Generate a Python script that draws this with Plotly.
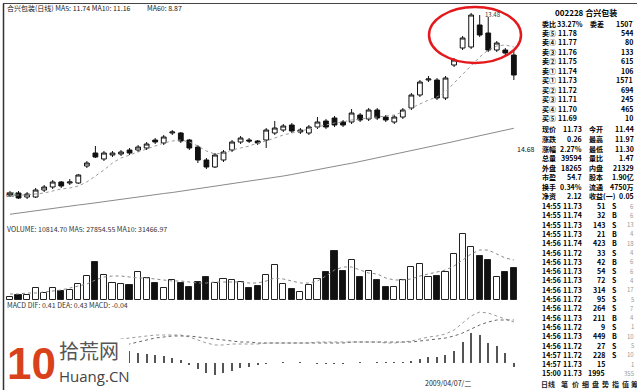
import plotly.graph_objects as go

W, H = 637, 390
FONT = "Noto Sans CJK SC"

# ---------------- data ----------------
day = list(range(60))
open_ = [6.20, 6.28, 6.12, 6.12, 6.40, 6.52, 6.72, 6.68, 6.68, 7.36,
         7.88, 7.64, 7.80, 7.84, 8.00, 8.00, 8.08, 8.40, 8.28, 8.68,
         8.68, 8.40, 8.12, 7.60, 7.32, 7.60, 8.00, 8.32, 8.40, 8.36,
         8.40, 8.68, 8.80, 9.00, 8.72, 8.68, 8.92, 9.16, 9.28, 9.12,
         9.12, 9.40, 9.24, 9.60, 9.32, 9.12, 9.32, 9.68, 10.20, 10.80,
         10.80, 10.08, 11.40, 12.08, 12.12, 13.00, 12.68, 12.00, 12.00, 11.80]
close = [6.28, 6.08, 6.24, 6.40, 6.52, 6.72, 6.56, 6.72, 7.00, 7.48,
         7.72, 7.88, 7.88, 7.92, 7.88, 8.12, 8.24, 8.32, 8.52, 8.72,
         8.36, 8.08, 7.60, 7.32, 7.80, 7.92, 8.32, 8.48, 8.36, 8.28,
         8.80, 8.88, 8.96, 8.76, 8.80, 8.92, 9.12, 8.92, 9.00, 9.00,
         9.48, 9.20, 9.60, 9.28, 9.20, 9.32, 9.60, 10.20, 10.72, 10.84,
         10.08, 10.88, 11.60, 12.48, 13.40, 12.60, 12.00, 12.28, 11.88, 11.00]
high = [6.36, 6.36, 6.32, 6.48, 6.60, 6.80, 6.76, 6.84, 7.04, 7.56,
        8.16, 7.96, 7.96, 8.00, 8.08, 8.20, 8.32, 8.48, 8.60, 8.80,
        8.72, 8.44, 8.20, 7.68, 7.88, 8.00, 8.40, 8.56, 8.48, 8.40,
        8.88, 9.16, 9.04, 9.08, 8.88, 9.00, 9.32, 9.24, 9.36, 9.20,
        9.64, 9.48, 9.68, 9.68, 9.40, 9.40, 9.68, 10.28, 10.80, 10.96,
        10.88, 10.96, 11.68, 12.56, 13.48, 13.40, 13.32, 12.36, 12.08, 12.00]
low = [6.12, 6.04, 6.04, 6.08, 6.32, 6.44, 6.48, 6.60, 6.64, 7.28,
       7.68, 7.56, 7.72, 7.76, 7.80, 7.92, 8.00, 8.24, 8.20, 8.60,
       8.28, 8.00, 7.48, 7.24, 7.28, 7.52, 7.92, 8.24, 8.28, 8.20,
       8.08, 8.60, 8.72, 8.68, 8.64, 8.60, 8.84, 8.84, 8.92, 8.92,
       9.04, 9.12, 9.16, 9.20, 9.12, 9.04, 9.24, 9.60, 10.12, 10.72,
       10.00, 10.00, 11.32, 12.00, 12.04, 12.52, 11.92, 11.92, 11.80, 10.80]
ma10 = [6.16, 6.20, 6.20, 6.24, 6.28, 6.36, 6.44, 6.48, 6.56, 6.72,
        6.96, 7.20, 7.48, 7.68, 7.80, 7.92, 8.04, 8.16, 8.28, 8.36,
        8.40, 8.32, 8.16, 7.96, 7.84, 7.88, 8.00, 8.08, 8.16, 8.28,
        8.36, 8.48, 8.60, 8.68, 8.76, 8.84, 8.92, 9.00, 9.08, 9.12,
        9.20, 9.24, 9.28, 9.32, 9.36, 9.40, 9.52, 9.68, 9.84, 10.00,
        10.12, 10.32, 10.68, 11.04, 11.36, 11.72, 12.00, 12.16, 12.20, 12.12]
ma60 = [5.43, 5.48, 5.52, 5.57, 5.61, 5.66, 5.70, 5.75, 5.80, 5.84,
        5.89, 5.94, 5.98, 6.03, 6.07, 6.12, 6.17, 6.21, 6.26, 6.30,
        6.35, 6.40, 6.44, 6.49, 6.53, 6.58, 6.63, 6.68, 6.73, 6.78,
        6.83, 6.89, 6.96, 7.02, 7.09, 7.15, 7.21, 7.28, 7.34, 7.41,
        7.47, 7.54, 7.61, 7.68, 7.75, 7.82, 7.89, 7.97, 8.04, 8.12,
        8.19, 8.27, 8.34, 8.42, 8.49, 8.57, 8.65, 8.72, 8.80, 8.87]
volume = [3000, 5000, 5000, 12000, 7000, 12000, 9000, 10000, 16000, 24000,
          38000, 25000, 17000, 16000, 15000, 28000, 22000, 17000, 12000, 20000,
          17000, 13000, 18000, 23000, 17000, 21000, 20000, 18000, 12000, 14000,
          25000, 35000, 16000, 11000, 8000, 15000, 21000, 28000, 49000, 29000,
          40000, 23000, 29000, 20000, 13000, 13000, 20000, 33000, 36000, 23000,
          24000, 28000, 46000, 66000, 53000, 44000, 40000, 23000, 28000, 32000]
vol_ma = [6000, 6000, 7000, 7000, 8000, 9000, 10000, 12000, 14000, 16000,
          20000, 23000, 24000, 24000, 23000, 22000, 22000, 21000, 20000, 19000,
          19000, 18000, 17000, 17000, 18000, 18000, 18000, 18000, 17000, 17000,
          19000, 22000, 21000, 19000, 17000, 17000, 19000, 24000, 30000, 33000,
          33000, 30000, 27000, 26000, 22000, 20000, 20000, 21000, 24000, 26000,
          28000, 30000, 34000, 40000, 46000, 50000, 50000, 46000, 42000, 40000]
dif = [-0.01, 0.00, 0.01, 0.02, 0.03, 0.05, 0.06, 0.07, 0.09, 0.13,
       0.17, 0.20, 0.22, 0.24, 0.25, 0.26, 0.27, 0.28, 0.28, 0.28,
       0.28, 0.26, 0.23, 0.20, 0.18, 0.18, 0.19, 0.19, 0.19, 0.19,
       0.20, 0.20, 0.20, 0.20, 0.20, 0.20, 0.21, 0.21, 0.21, 0.21,
       0.21, 0.21, 0.21, 0.21, 0.20, 0.20, 0.21, 0.22, 0.24, 0.26,
       0.27, 0.29, 0.33, 0.40, 0.47, 0.51, 0.50, 0.47, 0.44, 0.41]
dea = [-0.02, -0.02, -0.01, -0.01, 0.00, 0.01, 0.02, 0.03, 0.04, 0.06,
       0.08, 0.11, 0.14, 0.17, 0.19, 0.21, 0.23, 0.25, 0.26, 0.27,
       0.27, 0.27, 0.26, 0.25, 0.24, 0.23, 0.22, 0.21, 0.21, 0.20,
       0.20, 0.20, 0.20, 0.20, 0.20, 0.20, 0.20, 0.20, 0.20, 0.20,
       0.21, 0.21, 0.21, 0.21, 0.21, 0.21, 0.21, 0.21, 0.22, 0.23,
       0.24, 0.25, 0.27, 0.30, 0.34, 0.38, 0.41, 0.43, 0.43, 0.43]
macd = [0.02, 0.04, 0.04, 0.06, 0.06, 0.08, 0.08, 0.08, 0.10, 0.14,
        0.18, 0.18, 0.16, 0.14, 0.12, 0.10, 0.09, 0.08, 0.07, 0.05,
        0.03, -0.02, -0.06, -0.10, -0.12, -0.10, -0.08, -0.05, -0.04, -0.02,
        -0.01, 0.00, 0.005, 0.00, 0.005, 0.00, -0.01, -0.01, -0.01, -0.01,
        0.00, 0.005, 0.00, 0.005, 0.01, 0.01, 0.005, 0.02, 0.04, 0.06,
        0.06, 0.08, 0.12, 0.21, 0.30, 0.28, 0.20, 0.17, 0.10, -0.04]

# right panel quote data
stock_title = "002228 合兴包装"
order_labels = ["卖⑤", "卖④", "卖③", "卖②", "卖①", "买①", "买②", "买③", "买④", "买⑤"]
order_prices = ["11.78", "11.77", "11.76", "11.75", "11.74", "11.73", "11.72", "11.71", "11.70", "11.69"]
order_vols = ["544", "80", "133", "615", "106", "1571", "694", "245", "465", "10"]
stat_rows = [("现价", "11.73", "今开", "11.44"), ("涨跌", "0.26", "最高", "11.97"),
             ("涨幅", "2.27%", "最低", "11.30"), ("总量", "39594", "量比", "1.47"),
             ("外盘", "18265", "内盘", "21329"), ("市盈", "54.7", "股本", "1.90亿"),
             ("换手", "0.34%", "流通", "4750万"), ("净资", "2.12", "收益(一)", "0.05")]
tick_time = ["14:55", "14:55", "14:55", "14:55", "14:56", "14:56", "14:56", "14:56", "14:56", "14:56",
             "14:56", "14:56", "14:56", "14:56", "14:56", "14:56", "14:57", "14:57", "15:00"]
tick_price = ["11.73", "11.74", "11.73", "11.73", "11.74", "11.72", "11.73", "11.73", "11.73", "11.73",
              "11.72", "11.72", "11.73", "11.72", "11.73", "11.72", "11.72", "11.73", "11.73"]
tick_vol = ["51", "32", "143", "21", "423", "33", "42", "54", "72", "314",
            "95", "264", "211", "9", "449", "27", "228", "15", "1995"]
tick_side = ["S", "B", "S", "B", "B", "S", "B", "S", "S", "S",
             "S", "S", "B", "S", "B", "S", "S", "", ""]
tick_cnt = ["6", "6", "13", "4", "18", "4", "6", "6", "4", "17",
            "5", "7", "4", "1", "10", "5", "10", "1", "355"]
tabs = ["日线", "笔", "价", "细", "盘", "势", "指", "值", "筹"]

# ---------------- figure ----------------
def px_x(px):
    return px / W

def px_y(py):
    return 1 - py / H

fig = go.Figure()

fig.add_trace(go.Candlestick(
    x=day, open=open_, high=high, low=low, close=close,
    increasing=dict(line=dict(color="#111", width=1), fillcolor="white"),
    decreasing=dict(line=dict(color="#111", width=1), fillcolor="#111"),
    whiskerwidth=0, xaxis="x", yaxis="y", showlegend=False, hoverinfo="skip"))
fig.add_trace(go.Scatter(x=day, y=ma10, mode="lines", line=dict(color="#9a9a9a", width=1, dash="dot"),
                         xaxis="x", yaxis="y", showlegend=False, hoverinfo="skip"))
fig.add_trace(go.Scatter(x=day, y=ma60, mode="lines", line=dict(color="#8a8a8a", width=1),
                         xaxis="x", yaxis="y", showlegend=False, hoverinfo="skip"))

vol_fill = ["white" if c >= o else "#111" for o, c in zip(open_, close)]
fig.add_trace(go.Bar(x=day, y=volume, width=0.72, marker=dict(color=vol_fill, line=dict(color="#222", width=1)),
                     xaxis="x2", yaxis="y2", showlegend=False, hoverinfo="skip"))
fig.add_trace(go.Scatter(x=day, y=vol_ma, mode="lines", line=dict(color="#888", width=1, dash="dot"),
                         xaxis="x2", yaxis="y2", showlegend=False, hoverinfo="skip"))

fig.add_trace(go.Bar(x=day, y=macd, width=0.14, marker=dict(color="#555", line=dict(width=0)),
                     xaxis="x3", yaxis="y3", showlegend=False, hoverinfo="skip"))
fig.add_trace(go.Scatter(x=day, y=dif, mode="lines", line=dict(color="#999", width=1, dash="dot"),
                         xaxis="x3", yaxis="y3", showlegend=False, hoverinfo="skip"))
fig.add_trace(go.Scatter(x=day, y=dea, mode="lines", line=dict(color="#666", width=1, dash="dot"),
                         xaxis="x3", yaxis="y3", showlegend=False, hoverinfo="skip"))

xr = [-0.82, 59.72]
xdom = [px_x(3), px_x(520)]
hidden = dict(showgrid=False, zeroline=False, showticklabels=False, ticks="", showline=False)
fig.update_layout(
    width=W, height=H, margin=dict(l=0, r=0, t=0, b=0),
    paper_bgcolor="white", plot_bgcolor="white", bargap=0, boxgap=0.2,
    xaxis=dict(domain=xdom, range=xr, rangeslider=dict(visible=False), **hidden),
    xaxis2=dict(domain=xdom, range=xr, anchor="y2", **hidden),
    xaxis3=dict(domain=xdom, range=xr, anchor="y3", **hidden),
    yaxis=dict(domain=[px_y(222), px_y(5)], range=[5.12, 13.8], **hidden),
    yaxis2=dict(domain=[px_y(300), px_y(225)], range=[0, 75000], anchor="x2", **hidden),
    yaxis3=dict(domain=[px_y(380), px_y(303)], range=[-0.17, 0.60], anchor="x3", **hidden),
)

shapes = [
    dict(type="line", xref="paper", yref="paper", x0=px_x(3), x1=1, y0=px_y(3.5), y1=px_y(3.5),
         line=dict(color="#444", width=1)),
    dict(type="line", xref="paper", yref="paper", x0=px_x(3.5), x1=px_x(3.5), y0=0, y1=px_y(3.5),
         line=dict(color="#333", width=1.5)),
    dict(type="rect", xref="paper", yref="paper", x0=px_x(5), x1=px_x(129), y0=px_y(389), y1=px_y(339),
         fillcolor="white", line=dict(width=0), layer="above"),
    dict(type="circle", xref="paper", yref="paper", x0=px_x(429), x1=px_x(521), y0=px_y(63), y1=px_y(7),
         line=dict(color="#e3191c", width=2.5), layer="above"),
]

ann = []

def txt(px, py, s, anchor="left", size=7, color="#000", family=FONT, bold=False):
    if bold:
        s = "<b>" + s + "</b>"
    ann.append(dict(x=px_x(px), y=px_y(py), xref="paper", yref="paper", text=s, showarrow=False,
                    xanchor=anchor, yanchor="middle", font=dict(size=size, color=color, family=family)))

# chart labels
txt(5, 8, "合兴包装(日线) MA5: 11.74 MA10: 11.16", size=7, color="#222")
txt(145, 8, "MA60: 8.87", size=7, color="#222")
txt(5, 229, "VOLUME: 10814.70 MA5: 27854.55 MA10: 31466.97", size=7, color="#333")
txt(5, 305, "MACD DIF: 0.41 DEA: 0.43 MACD: -0.04", size=7, color="#333")
txt(483, 15, "13.48", size=6, color="#333")
txt(4, 194, "6.04", size=6, color="#333")
txt(526, 149, "14.68", anchor="center", size=7, color="#111")
txt(448, 383, "2009/04/07/二", anchor="center", size=7, color="#222")

# logo
txt(5, 363, "10", size=44, color="#d9411a", family="Liberation Sans", bold=True)
txt(57, 350, "拾荒网", size=20, color="#555")
txt(57, 376, "Huang.CN", size=15, color="#444", family="Open Sans")

# right panel
B = True
txt(586, 13, stock_title, anchor="center", size=8, bold=True)
txt(540, 24, "委比", bold=B)
txt(585, 24, "33.27%", anchor="right", bold=B)
txt(588, 24, "委差", bold=B)
txt(635, 24, "1507", anchor="right", bold=B)
order_y = [33, 42, 52, 61, 71, 80, 90, 99, 109, 118]
for yy, lab, pr, vo in zip(order_y, order_labels, order_prices, order_vols):
    txt(540, yy, lab, bold=B)
    txt(579, yy, pr, anchor="right", bold=B)
    txt(635, yy, vo, anchor="right", bold=B)
stat_y = [129, 139, 149, 158, 168, 177, 187, 196]
for yy, (l1, v1, l2, v2) in zip(stat_y, stat_rows):
    txt(540, yy, l1, bold=B)
    txt(584, yy, v1, anchor="right", bold=B)
    txt(587, yy, l2, bold=B)
    txt(636, yy, v2, anchor="right", bold=B)
for k in range(len(tick_time)):
    yy = 206 + 9.3 * k
    txt(540, yy, tick_time[k], bold=B)
    txt(584, yy, tick_price[k], anchor="right", bold=B)
    txt(607, yy, tick_vol[k], anchor="right", bold=B)
    if tick_side[k]:
        txt(610, yy, tick_side[k], bold=B)
    txt(636, yy, tick_cnt[k], anchor="right", size=6, color="#999")
tab_x = [548, 564, 575, 585, 595, 605, 615, 625, 634]
for xx, t in zip(tab_x, tabs):
    txt(xx, 384, t, anchor="center", size=7, color="#222", bold=B)

fig.update_layout(shapes=shapes, annotations=ann)
fig.write_html("out.html")
